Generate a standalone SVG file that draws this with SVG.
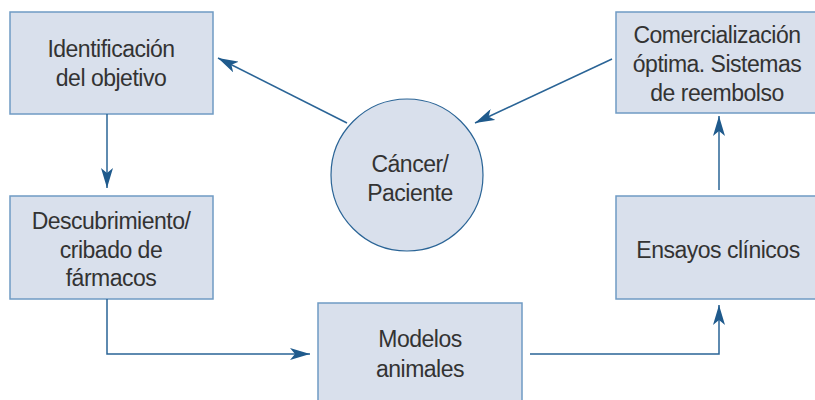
<svg xmlns="http://www.w3.org/2000/svg" width="815" height="400" viewBox="0 0 815 400">
<style>
.box{fill:#d9e0ec;stroke:#6f9bc4;stroke-width:1.5}
.lbl{font-family:"Liberation Sans",Arial,sans-serif;font-size:23px;fill:#333;text-anchor:middle;letter-spacing:-0.5px}
.con{fill:none;stroke:#2a6496;stroke-width:1.5}
</style>
<defs>
<marker id="ah" viewBox="0 0 20 12" refX="20" refY="6" markerWidth="20" markerHeight="12" markerUnits="userSpaceOnUse" orient="auto">
<path d="M0,0 L20,6 L0,12 L5,6 Z" fill="#1f5a8c"/>
</marker>
</defs>
<g id="n-identificacion">
<rect class="box" x="10" y="12" width="203" height="102"/>
<text class="lbl" x="111" y="57">Identificación</text>
<text class="lbl" x="111" y="86">del objetivo</text>
</g>
<g id="n-comercializacion">
<rect class="box" x="616" y="12" width="205" height="101"/>
<text class="lbl" x="717" y="43">Comercialización</text>
<text class="lbl" x="717" y="72">óptima. Sistemas</text>
<text class="lbl" x="717" y="101">de reembolso</text>
</g>
<g id="n-cancer">
<circle cx="407" cy="175" r="76" fill="#d9e0ec" stroke="#2a6496" stroke-width="1.2"/>
<text class="lbl" x="410" y="172">Cáncer/</text>
<text class="lbl" x="410" y="201">Paciente</text>
</g>
<g id="n-descubrimiento">
<rect class="box" x="10" y="196" width="203" height="103"/>
<text class="lbl" x="111" y="229">Descubrimiento/</text>
<text class="lbl" x="111" y="258">cribado de</text>
<text class="lbl" x="111" y="286">fármacos</text>
</g>
<g id="n-modelos">
<rect class="box" x="318" y="303" width="204" height="110"/>
<text class="lbl" x="420" y="347">Modelos</text>
<text class="lbl" x="420" y="377">animales</text>
</g>
<g id="n-ensayos">
<rect class="box" x="616" y="196" width="205" height="103"/>
<text class="lbl" x="718" y="258">Ensayos clínicos</text>
</g>
<g id="connectors">
<path class="con" d="M107,114 L107,188" marker-end="url(#ah)"/>
<path class="con" d="M107,299 L107,354 L310,354" marker-end="url(#ah)"/>
<path class="con" d="M530,354 L719,354 L719,305" marker-end="url(#ah)"/>
<path class="con" d="M719,190 L719,116" marker-end="url(#ah)"/>
<path class="con" d="M347,123 L218,58" marker-end="url(#ah)"/>
<path class="con" d="M612,59 L475,123" marker-end="url(#ah)"/>
</g>
</svg>
